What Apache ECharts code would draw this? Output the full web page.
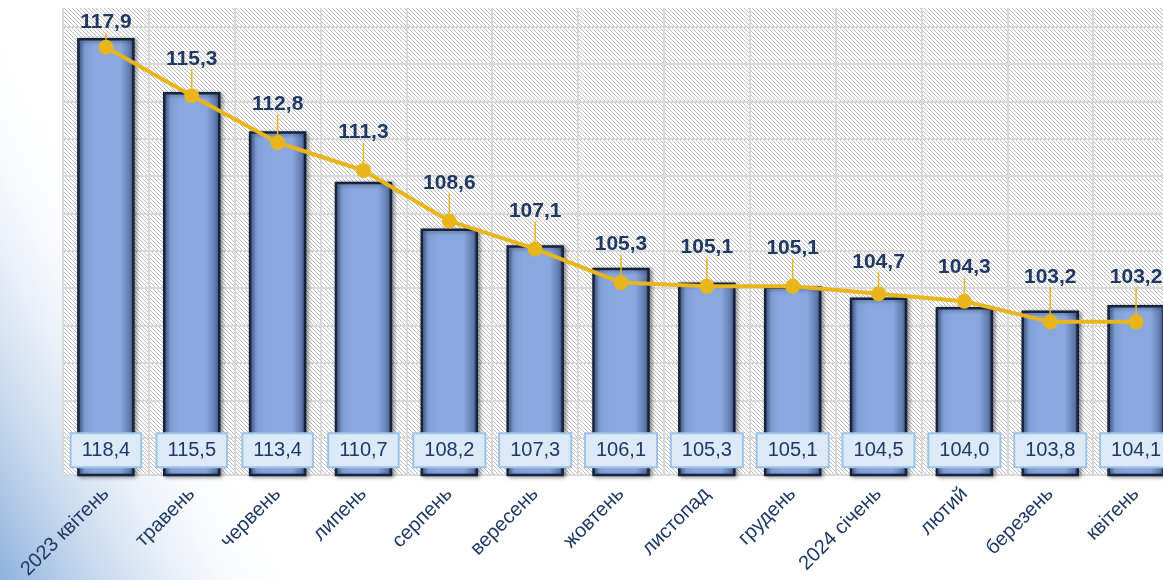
<!DOCTYPE html>
<html>
<head>
<meta charset="utf-8">
<script src="https://cdn.jsdelivr.net/npm/echarts@6/dist/echarts.min.js"></script>
<style>
html, body { margin: 0; padding: 0; background: #fff; }
#chartBox { width: 1163px; height: 580px; }
</style>
</head>
<body>
<div id="chartBox"></div>
<script>
var months = ['2023 квітень', 'травень', 'червень', 'липень', 'серпень', 'вересень', 'жовтень',
    'листопад', 'грудень', '2024 січень', 'лютий', 'березень', 'квітень'];
var barValues = [118.4, 115.5, 113.4, 110.7, 108.2, 107.3, 106.1, 105.3, 105.1, 104.5, 104.0, 103.8, 104.1];
var lineValues = [117.9, 115.3, 112.8, 111.3, 108.6, 107.1, 105.3, 105.1, 105.1, 104.7, 104.3, 103.2, 103.2];

function fmt(v) {
    return v.toFixed(1).replace('.', ',');
}

// diagonal hatch for the plot area
function makeHatch() {
    var c = document.createElement('canvas');
    c.width = 4;
    c.height = 4;
    var ctx = c.getContext('2d');
    ctx.fillStyle = '#ffffff';
    ctx.fillRect(0, 0, 4, 4);
    ctx.fillStyle = '#bdbdbd';
    for (var i = 0; i < 4; i++) {
        ctx.fillRect(i, i, 1, 1);
    }
    return c;
}

var navy = '#1f3864';
var gold = '#e9b51c';

function bindChart() {
    var chart = echarts.init(document.getElementById('chartBox'));
    var option = {
        animation: false,
        backgroundColor: '#ffffff',
        textStyle: { fontFamily: 'Liberation Sans, Arial, sans-serif' },
        graphic: [
            {
                type: 'polygon',
                z: -10,
                silent: true,
                shape: { points: [[0, 40], [0, 580], [290, 580]] },
                style: {
                    fill: new echarts.graphic.LinearGradient(0, 580, 237, 453, [
                        { offset: 0, color: 'rgba(140,178,220,1)' },
                        { offset: 0.5, color: 'rgba(200,218,238,0.6)' },
                        { offset: 1, color: 'rgba(255,255,255,0)' }
                    ], true)
                }
            }
        ],
        grid: {
            left: 63,
            top: 8,
            bottom: 105,
            width: 1116,
            outerBoundsMode: 'none',
            containLabel: false,
            show: true,
            borderWidth: 0,
            backgroundColor: { image: makeHatch(), repeat: 'repeat' }
        },
        xAxis: {
            type: 'category',
            data: months,
            boundaryGap: true,
            axisLine: { show: true, lineStyle: { color: '#d9d9d9', width: 2 } },
            axisTick: { show: false },
            axisLabel: {
                interval: 0,
                rotate: 45,
                margin: 16,
                fontSize: 20,
                color: navy
            },
            splitLine: { show: true, interval: 0, lineStyle: { color: '#d9d9d9', width: 2 } }
        },
        yAxis: {
            type: 'value',
            min: 95,
            max: 120,
            interval: 2,
            axisLine: { show: false },
            axisTick: { show: false },
            axisLabel: { show: false },
            splitLine: {
                show: true,
                showMaxLine: false,
                lineStyle: { color: '#d9d9d9', width: 2 }
            }
        },
        series: [
            {
                name: 'bar',
                type: 'bar',
                data: barValues,
                barWidth: '67%',
                itemStyle: {
                    color: new echarts.graphic.LinearGradient(0, 0, 1, 0, [
                        { offset: 0, color: '#4a6192' },
                        { offset: 0.12, color: '#7f9ed6' },
                        { offset: 0.3, color: '#89a8df' },
                        { offset: 0.75, color: '#89a8df' },
                        { offset: 0.92, color: '#6079ad' },
                        { offset: 1, color: '#2f4068' }
                    ]),
                    borderColor: '#16233f',
                    borderWidth: 2.5,
                    shadowColor: 'rgba(0,0,0,0.4)',
                    shadowBlur: 4,
                    shadowOffsetX: 2,
                    shadowOffsetY: 1
                },
                label: {
                    show: true,
                    position: 'insideBottom',
                    distance: 10,
                    formatter: function (p) { return fmt(p.value); },
                    fontSize: 20,
                    lineHeight: 22,
                    color: navy,
                    backgroundColor: '#dce9f6',
                    borderColor: '#9dc3e6',
                    borderWidth: 2,
                    padding: [5, 10]
                }
            },
            {
                name: 'line',
                type: 'line',
                data: lineValues,
                symbol: 'circle',
                symbolSize: 15,
                z: 5,
                lineStyle: { color: gold, width: 4 },
                itemStyle: { color: gold },
                label: {
                    show: true,
                    position: 'top',
                    distance: 4,
                    formatter: function (p) { return fmt(p.value); },
                    fontSize: 21,
                    fontWeight: 'bold',
                    color: navy
                },
                labelLine: {
                    show: true,
                    lineStyle: { color: gold, width: 1.5 }
                },
                labelLayout: function (params) {
                    var shift = [25, 37, 38, 38, 38, 38, 38, 39, 38, 32, 34, 45, 45][params.dataIndex];
                    var pointY = params.rect.y + params.rect.height / 2;
                    var labelY = params.labelRect.y + params.labelRect.height / 2;
                    return { dy: pointY - shift - labelY };
                }
            }
        ]
    };
    chart.setOption(option);
}
bindChart();
</script>
</body>
</html>
